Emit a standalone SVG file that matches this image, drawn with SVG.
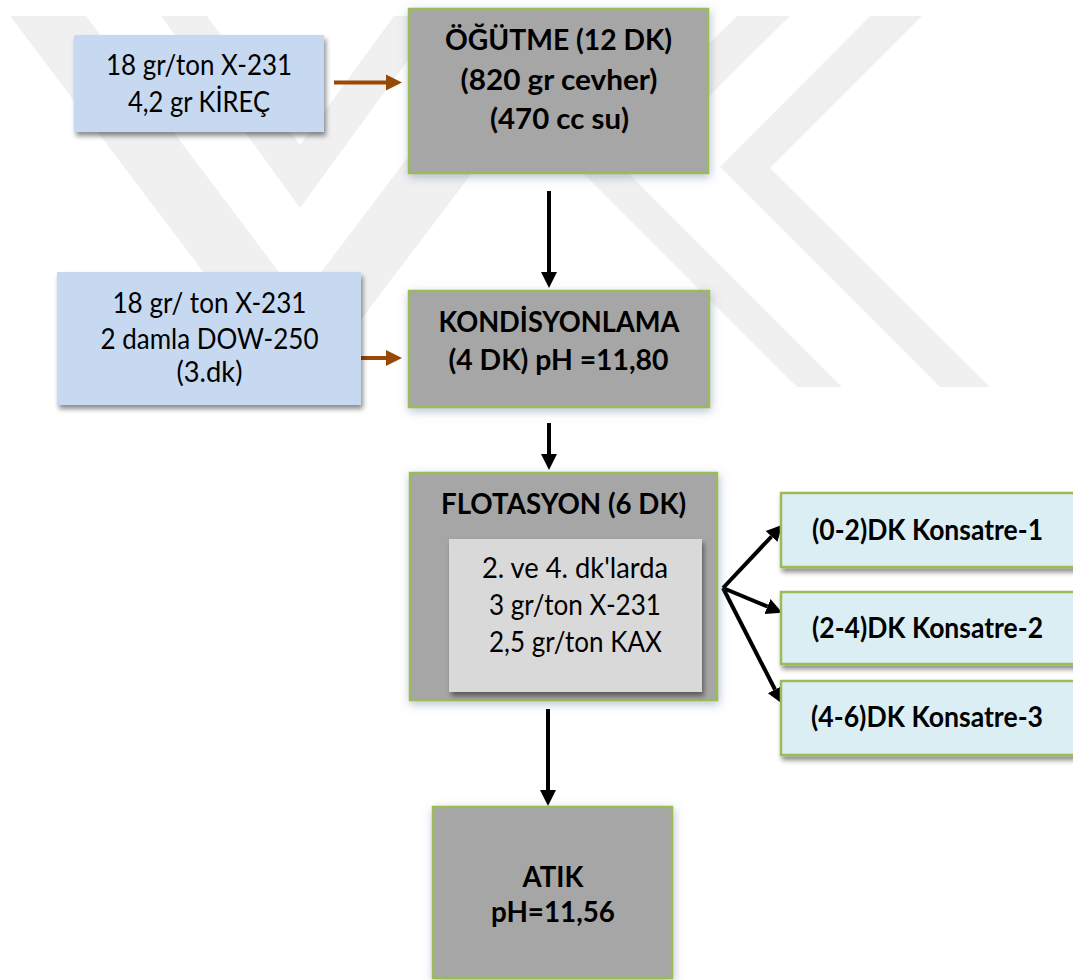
<svg xmlns="http://www.w3.org/2000/svg" width="1073" height="980" viewBox="0 0 1073 980">
<defs>
<style>
.wm{fill:#f0f0f0}
.blue{fill:#c6d9f1}
.grey{fill:#a6a6a6;stroke:#9bbb59;stroke-width:2.5}
.inner{fill:#d9d9d9}
.kon{fill:#dbeef4;stroke:#9bbb59;stroke-width:2.5}
.t{font-family:Lato,"Liberation Sans",sans-serif;font-size:28px;fill:#000;text-anchor:middle}
.b{font-weight:700;font-size:29px}
.s{text-anchor:start}
.ka{stroke:#000;stroke-width:4;fill:none}
.oa{stroke:#984807;stroke-width:4;fill:none}
</style>
<filter id="shB" x="-10%" y="-10%" width="130%" height="140%">
<feDropShadow dx="2" dy="4" stdDeviation="2.5" flood-color="#000" flood-opacity="0.45"/>
</filter>
<filter id="glow" x="-15%" y="-15%" width="130%" height="135%">
<feDropShadow dx="1" dy="3" stdDeviation="5" flood-color="#6f83a8" flood-opacity="0.5"/>
</filter>
<marker id="hk" markerUnits="userSpaceOnUse" markerWidth="16" markerHeight="18" refX="0" refY="8" orient="auto" viewBox="0 0 16 16">
<path d="M0,0 L16,8 L0,16 z" fill="#000"/>
</marker>
<marker id="ho" markerUnits="userSpaceOnUse" markerWidth="16" markerHeight="18" refX="0" refY="8" orient="auto" viewBox="0 0 16 16">
<path d="M0,0 L16,8 L0,16 z" fill="#984807"/>
</marker>
</defs>
<rect width="1073" height="980" fill="#fff"/>
<g id="watermark">
<polygon class="wm" points="10,16 86,16 300,300 515,16 591,16 300,400"/>
<polygon class="wm" points="161,16 207,16 300,145 394,16 440,16 300,208"/>
<polygon class="wm" points="870,16 922,16 770,168 990,387 940,387 720,167"/>
<polygon class="wm" points="737,16 790,16 630,175 842,387 797,387 581,171"/>
</g>
<g id="connectors">
<line class="oa" x1="334" y1="82.5" x2="386" y2="82.5" marker-end="url(#ho)"/>
<line class="oa" x1="352" y1="358" x2="386" y2="358" marker-end="url(#ho)"/>
<line class="ka" x1="549" y1="191" x2="549" y2="272" marker-end="url(#hk)"/>
<line class="ka" x1="549" y1="423" x2="549" y2="454" marker-end="url(#hk)"/>
<line class="ka" x1="548" y1="709" x2="548" y2="790" marker-end="url(#hk)"/>
<line class="ka" x1="723" y1="588" x2="771.5" y2="536.5" marker-end="url(#hk)"/>
<line class="ka" x1="723" y1="588" x2="767.5" y2="606.5" marker-end="url(#hk)"/>
<line class="ka" x1="723" y1="588" x2="775" y2="689.5" marker-end="url(#hk)"/>
</g>
<g id="n_kirec">
<rect class="blue" x="74" y="35" width="250" height="97" filter="url(#shB)"/>
<text class="t" x="199" y="75" textLength="186" lengthAdjust="spacingAndGlyphs">18 gr/ton X-231</text>
<text class="t" x="199" y="112" textLength="142" lengthAdjust="spacingAndGlyphs">4,2 gr KİREÇ</text>
</g>
<g id="n_ogutme">
<rect class="grey" x="409" y="9" width="299" height="164" filter="url(#glow)"/>
<text class="t b" x="558.5" y="50" textLength="227" lengthAdjust="spacingAndGlyphs">ÖĞÜTME (12 DK)</text>
<text class="t b" x="559" y="89.5" textLength="197" lengthAdjust="spacingAndGlyphs">(820 gr cevher)</text>
<text class="t b" x="559.5" y="128.5" textLength="139" lengthAdjust="spacingAndGlyphs">(470 cc su)</text>
</g>
<g id="n_dow">
<rect class="blue" x="57" y="272" width="304" height="133" filter="url(#shB)"/>
<text class="t" x="209.5" y="313" textLength="194" lengthAdjust="spacingAndGlyphs">18 gr/ ton X-231</text>
<text class="t" x="209.5" y="348.5" textLength="218" lengthAdjust="spacingAndGlyphs">2 damla DOW-250</text>
<text class="t" x="209.5" y="382" textLength="66" lengthAdjust="spacingAndGlyphs">(3.dk)</text>
</g>
<g id="n_kond">
<rect class="grey" x="409" y="291" width="300" height="116" filter="url(#glow)"/>
<text class="t b" x="559" y="332" textLength="241" lengthAdjust="spacingAndGlyphs">KONDİSYONLAMA</text>
<text class="t b" x="558.5" y="370" textLength="220" lengthAdjust="spacingAndGlyphs">(4 DK) pH =11,80</text>
</g>
<g id="n_flot">
<rect class="grey" x="410" y="473" width="307" height="227" filter="url(#glow)"/>
<text class="t b" x="563.5" y="514" textLength="245" lengthAdjust="spacingAndGlyphs">FLOTASYON (6 DK)</text>
<rect class="inner" x="449" y="539" width="253" height="153" filter="url(#shB)"/>
<text class="t" x="575" y="578" textLength="186" lengthAdjust="spacingAndGlyphs">2. ve 4. dk'larda</text>
<text class="t" x="575" y="615" textLength="172" lengthAdjust="spacingAndGlyphs">3 gr/ton X-231</text>
<text class="t" x="575.5" y="652" textLength="173" lengthAdjust="spacingAndGlyphs">2,5 gr/ton KAX</text>
</g>
<g id="n_k1">
<rect class="kon" x="781" y="493" width="300" height="74" filter="url(#shB)"/>
<text class="t b s" x="812" y="540" textLength="231" lengthAdjust="spacingAndGlyphs">(0-2)DK Konsatre-1</text>
</g>
<g id="n_k2">
<rect class="kon" x="781" y="592" width="300" height="72" filter="url(#shB)"/>
<text class="t b s" x="812" y="638" textLength="231" lengthAdjust="spacingAndGlyphs">(2-4)DK Konsatre-2</text>
</g>
<g id="n_k3">
<rect class="kon" x="781" y="681" width="300" height="74" filter="url(#shB)"/>
<text class="t b s" x="811" y="727" textLength="232" lengthAdjust="spacingAndGlyphs">(4-6)DK Konsatre-3</text>
</g>
<g id="n_atik">
<rect class="grey" x="433" y="807" width="239" height="171" filter="url(#glow)"/>
<text class="t b" x="553" y="887" textLength="61" lengthAdjust="spacingAndGlyphs">ATIK</text>
<text class="t b" x="553" y="922" textLength="124" lengthAdjust="spacingAndGlyphs">pH=11,56</text>
</g>
</svg>
